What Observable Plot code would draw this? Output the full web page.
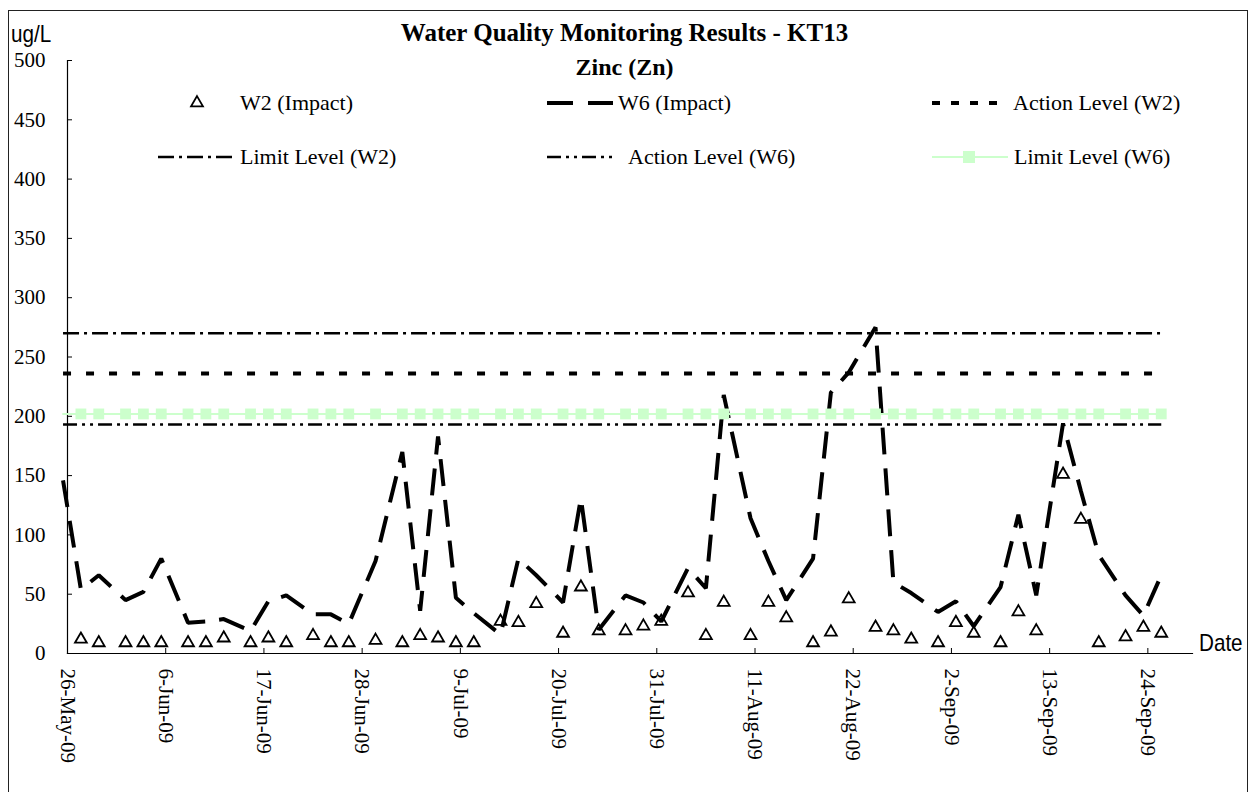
<!DOCTYPE html>
<html><head><meta charset="utf-8">
<script src="https://cdn.jsdelivr.net/npm/d3@7"></script>
<script src="https://cdn.jsdelivr.net/npm/@observablehq/plot@0.6"></script>
<style>
html,body{margin:0;padding:0;background:#fff;}
#wrap{position:relative;width:1250px;height:792px;overflow:hidden;background:#fff;}
#frame{position:absolute;left:8px;top:10px;width:1240px;height:800px;border:1.5px solid #222;box-sizing:border-box;pointer-events:none;}
#chart{position:absolute;left:0;top:0;}
.t{position:absolute;white-space:nowrap;color:#000;}
.serif{font-family:"Liberation Serif","Times New Roman",serif;}
.narrow{font-family:"Liberation Sans",Arial,sans-serif;transform:scaleX(0.86);transform-origin:0 0;}
#legendSvg{position:absolute;left:0;top:0;}
</style></head><body>
<div id="wrap">
  <div id="chart"></div>
  <svg id="legendSvg" width="1250" height="200"></svg>
  <div id="frame"></div>
</div>
<script>
// ---------- DATA ----------
const dates = ["2009-05-25","2009-05-27","2009-05-29","2009-06-01","2009-06-03","2009-06-05","2009-06-08","2009-06-10","2009-06-12","2009-06-15","2009-06-17","2009-06-19","2009-06-22","2009-06-24","2009-06-26","2009-06-29","2009-07-02","2009-07-04","2009-07-06","2009-07-08","2009-07-10","2009-07-13","2009-07-15","2009-07-17","2009-07-20","2009-07-22","2009-07-24","2009-07-27","2009-07-29","2009-07-31","2009-08-03","2009-08-05","2009-08-07","2009-08-10","2009-08-12","2009-08-14","2009-08-17","2009-08-19","2009-08-21","2009-08-24","2009-08-26","2009-08-28","2009-08-31","2009-09-02","2009-09-04","2009-09-07","2009-09-09","2009-09-11","2009-09-14","2009-09-16","2009-09-18","2009-09-21","2009-09-23","2009-09-25"];
const w2Impact = [null,12,9,9,9,9,9,9,13,9,13,9,15,9,9,11,9,15,13,9,9,27,26,42,17,56,19,19,23,27,51,15,43,15,43,30,9,18,46,22,19,12,9,26,17,9,35,19,151,113,9,14,22,17];
const w6Impact = [146,54,66,45,52,80,26,27,29,19,44,49,33,33,25,78,170,36,183,47,34,16,80,66,43,131,20,49,43,27,72,55,218,114,78,45,80,220,237,275,60,51,35,44,23,56,117,49,194,137,83,49,32,66];
const actionLevelW2 = 236;
const limitLevelW2 = 270;
const actionLevelW6 = 193;
const limitLevelW6 = 202;
const xTickDates = ["2009-05-26","2009-06-06","2009-06-17","2009-06-28","2009-07-09","2009-07-20","2009-07-31","2009-08-11","2009-08-22","2009-09-02","2009-09-13","2009-09-24"];
const xTickLabels = ["26-May-09","6-Jun-09","17-Jun-09","28-Jun-09","9-Jul-09","20-Jul-09","31-Jul-09","11-Aug-09","22-Aug-09","2-Sep-09","13-Sep-09","24-Sep-09"];
const xDomainEnd = "2009-09-29";
const yTicks = [0,50,100,150,200,250,300,350,400,450,500];
const titleText = "Water Quality Monitoring Results - KT13";
const subtitleText = "Zinc (Zn)";
const seriesNames = ["W2 (Impact)","W6 (Impact)","Action Level (W2)","Limit Level (W2)","Action Level (W6)","Limit Level (W6)"];

// ---------- STYLES ----------
const GREEN = "#ccffcc";
const dashW6 = "27,14";
const dashActionW2 = "8,15";
const dashLimitW2 = "16,5,3,5";
const dashActionW6 = "14,5,3,5,3,5";
const TRI_R = 4.4;

// ---------- BUILD ----------
const atNoon = s => new Date(s + "T12:00:00Z");
const atMidnight = s => new Date(s + "T00:00:00Z");
const rows = dates.map((d, i) => ({date: atNoon(d), w2: w2Impact[i], w6: w6Impact[i]}));
const sampled = rows.filter(r => r.w2 != null);
const tickD = xTickDates.map(atMidnight);
const labelOf = new Map(tickD.map((d, i) => [+d, xTickLabels[i]]));

const chart = Plot.plot({
  width: 1250, height: 792,
  marginTop: 60, marginBottom: 139, marginLeft: 67, marginRight: 58,
  style: {fontFamily: "'Liberation Serif','Times New Roman',serif", fontSize: "21px", color: "#000", background: "transparent", overflow: "visible"},
  x: {type: "utc", domain: [tickD[0], atMidnight(xDomainEnd)]},
  y: {type: "linear", domain: [0, 500]},
  marks: [
    Plot.frame({anchor: "left", stroke: "#000", strokeWidth: 1.2}),
    Plot.frame({anchor: "bottom", stroke: "#000", strokeWidth: 1.2}),
    Plot.axisY({ticks: yTicks, tickSize: -5, tickPadding: 27, tickFormat: d => String(d), label: null, fontSize: 21, stroke: "#000"}),
    Plot.axisX({ticks: tickD, tickSize: -5, tickPadding: 20, tickRotate: 90, tickFormat: d => labelOf.get(+d), label: null, fontSize: 21, stroke: "#000"}),
    Plot.dot(sampled, {x: "date", y: "w2", symbol: "triangle", r: TRI_R, stroke: "#000", strokeWidth: 1.8, fill: "none"}),
    Plot.line(rows, {x: "date", y: "w6", stroke: "#000", strokeWidth: 4, strokeDasharray: dashW6, strokeLinecap: "butt", strokeLinejoin: "miter"}),
    Plot.line(rows, {x: "date", y: () => actionLevelW2, stroke: "#000", strokeWidth: 4, strokeDasharray: dashActionW2, strokeLinecap: "butt"}),
    Plot.line(rows, {x: "date", y: () => limitLevelW2, stroke: "#000", strokeWidth: 2.5, strokeDasharray: dashLimitW2, strokeLinecap: "butt"}),
    Plot.line(rows, {x: "date", y: () => actionLevelW6, stroke: "#000", strokeWidth: 2.5, strokeDasharray: dashActionW6, strokeLinecap: "butt"}),
    Plot.line(rows, {x: "date", y: () => limitLevelW6, stroke: GREEN, strokeWidth: 2}),
    Plot.dot(sampled, {x: "date", y: () => limitLevelW6, symbol: "square", r: 6.1, fill: GREEN, stroke: "none"})
  ]
});
document.getElementById("chart").appendChild(chart);

// ---------- TEXT ----------
const wrap = document.getElementById("wrap");
function addText(txt, cls, css) {
  const el = document.createElement("div");
  el.className = "t " + cls;
  el.textContent = txt;
  Object.assign(el.style, css);
  wrap.appendChild(el);
  return el;
}
addText(titleText, "serif", {left: "0px", width: "1249px", textAlign: "center", top: "20px", fontSize: "25px", lineHeight: "25px", fontWeight: "bold"});
addText(subtitleText, "serif", {left: "0px", width: "1249px", textAlign: "center", top: "55px", fontSize: "24px", lineHeight: "24px", fontWeight: "bold"});
addText("ug/L", "narrow", {left: "11px", top: "22px", fontSize: "24px", lineHeight: "24px"});
addText("Date", "narrow", {left: "1199px", top: "631px", fontSize: "24px", lineHeight: "24px"});

// ---------- LEGEND ----------
const legendLayout = [
  {name: seriesNames[0], kind: "tri",   sx: 197, x0: 0,   x1: 0,    tx: 240,  cy: 103},
  {name: seriesNames[1], kind: "w6",    sx: 0,   x0: 547, x1: 613,  tx: 618,  cy: 103},
  {name: seriesNames[2], kind: "aW2",   sx: 0,   x0: 932, x1: 1008, tx: 1013, cy: 103},
  {name: seriesNames[3], kind: "lW2",   sx: 0,   x0: 158, x1: 234,  tx: 240,  cy: 157},
  {name: seriesNames[4], kind: "aW6",   sx: 0,   x0: 547, x1: 613,  tx: 628,  cy: 157},
  {name: seriesNames[5], kind: "lW6",   sx: 969, x0: 932, x1: 1008, tx: 1014, cy: 157}
];
const lsvg = d3.select("#legendSvg");
for (const it of legendLayout) {
  if (it.kind === "tri") {
    lsvg.append("path").attr("d", d3.symbol(d3.symbolTriangle, TRI_R * TRI_R * Math.PI)())
      .attr("transform", `translate(${it.sx},${it.cy})`).attr("fill", "none").attr("stroke", "#000").attr("stroke-width", 1.8);
  } else {
    const st = {
      w6: ["#000", 4, "26,15"], aW2: ["#000", 4, "8,11"], lW2: ["#000", 2.5, dashLimitW2],
      aW6: ["#000", 2.5, dashActionW6], lW6: [GREEN, 2, null]
    }[it.kind];
    const ln = lsvg.append("line").attr("x1", it.x0).attr("x2", it.x1).attr("y1", it.cy).attr("y2", it.cy)
      .attr("stroke", st[0]).attr("stroke-width", st[1]);
    if (st[2]) ln.attr("stroke-dasharray", st[2]);
    if (it.kind === "lW6") {
      lsvg.append("rect").attr("x", it.sx - 6).attr("y", it.cy - 6).attr("width", 12).attr("height", 12).attr("fill", GREEN);
    }
  }
  addText(it.name, "serif", {left: it.tx + "px", top: (it.cy - 11) + "px", fontSize: "22px", lineHeight: "22px"});
}
</script>
</body></html>
